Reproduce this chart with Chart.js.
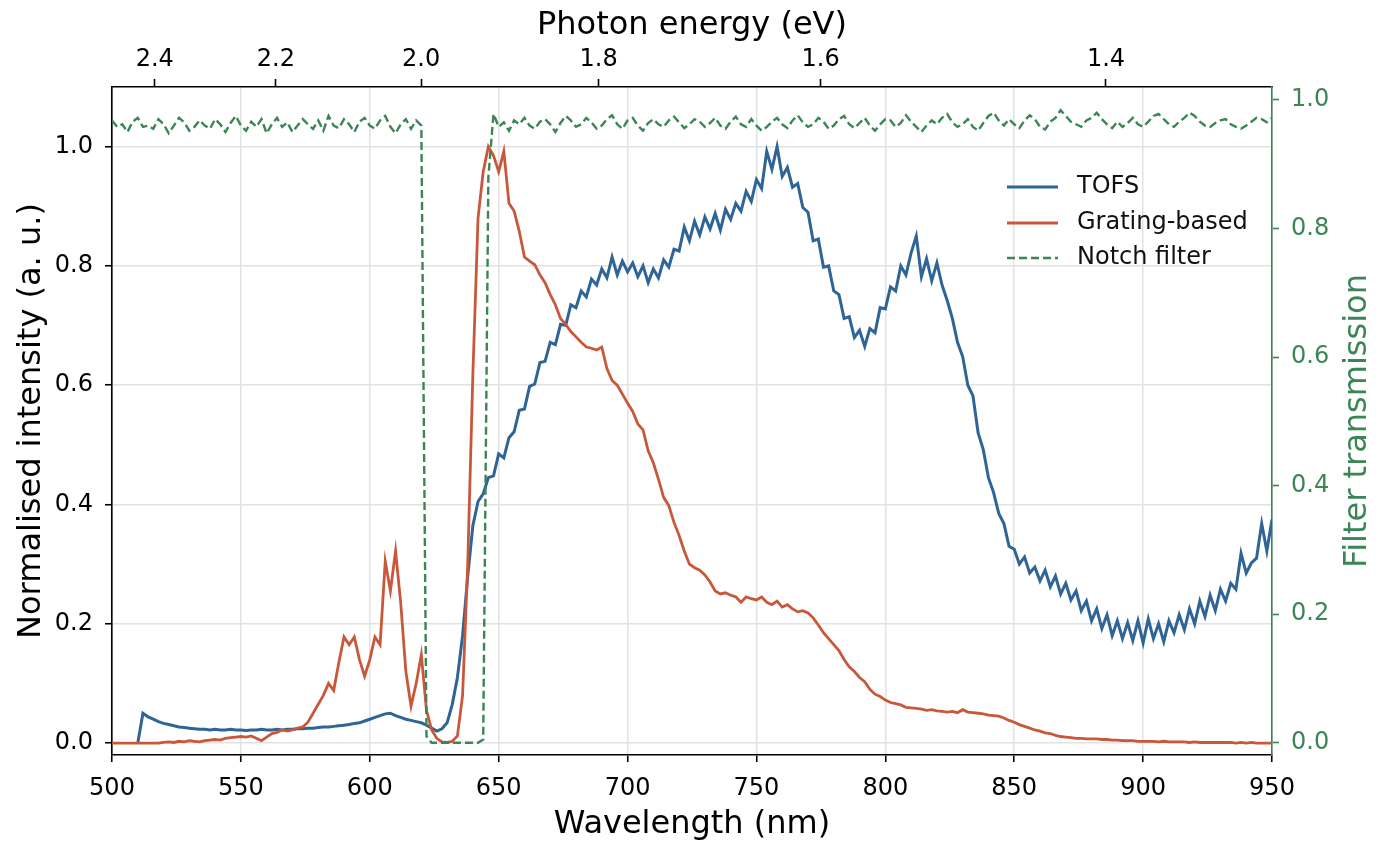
<!DOCTYPE html>
<html>
<head>
<meta charset="utf-8">
<script src="https://cdn.jsdelivr.net/npm/chart.js@4.4.1/dist/chart.umd.min.js"></script>
<style>
  html, body { margin: 0; padding: 0; background: #fff; }
  canvas { display: block; }
</style>
</head>
<body>
<canvas id="spectrum" width="1387" height="845"></canvas>
<script>
// wavelength grid: 500 nm .. 950 nm, one sample every 2 nm
const WL_START = 500;
const WL_STEP = 2;

// TOFS spectrum (normalised)
const tofs = [
  null, null, null, null, null, 0.000, 0.050, 0.044, 0.040, 0.036,
  0.033, 0.031, 0.029, 0.027, 0.026, 0.025, 0.024, 0.023, 0.023, 0.022,
  0.023, 0.022, 0.022, 0.023, 0.022, 0.022, 0.021, 0.022, 0.022, 0.023,
  0.022, 0.022, 0.023, 0.022, 0.023, 0.023, 0.024, 0.024, 0.025, 0.025,
  0.026, 0.027, 0.027, 0.028, 0.029, 0.030, 0.031, 0.033, 0.034, 0.037,
  0.040, 0.043, 0.046, 0.049, 0.050, 0.046, 0.043, 0.040, 0.038, 0.036,
  0.034, 0.030, 0.025, 0.020, 0.024, 0.034, 0.065, 0.110, 0.180, 0.280,
  0.365, 0.405, 0.418, 0.445, 0.448, 0.485, 0.478, 0.512, 0.522, 0.558,
  0.560, 0.598, 0.602, 0.638, 0.640, 0.672, 0.668, 0.702, 0.700, 0.735,
  0.730, 0.758, 0.748, 0.778, 0.768, 0.795, 0.780, 0.815, 0.785, 0.808,
  0.790, 0.805, 0.782, 0.800, 0.772, 0.795, 0.780, 0.810, 0.798, 0.828,
  0.825, 0.865, 0.842, 0.875, 0.852, 0.882, 0.862, 0.888, 0.860, 0.895,
  0.878, 0.905, 0.892, 0.925, 0.908, 0.945, 0.930, 0.992, 0.962, 1.000,
  0.950, 0.965, 0.932, 0.938, 0.898, 0.890, 0.842, 0.845, 0.798, 0.800,
  0.758, 0.752, 0.712, 0.715, 0.680, 0.692, 0.665, 0.695, 0.688, 0.730,
  0.728, 0.765, 0.758, 0.800, 0.785, 0.822, 0.850, 0.782, 0.812, 0.775,
  0.805, 0.768, 0.742, 0.712, 0.672, 0.648, 0.600, 0.582, 0.520, 0.492,
  0.445, 0.420, 0.385, 0.368, 0.330, 0.325, 0.300, 0.312, 0.285, 0.295,
  0.272, 0.290, 0.262, 0.280, 0.250, 0.268, 0.240, 0.255, 0.222, 0.238,
  0.205, 0.225, 0.192, 0.215, 0.180, 0.205, 0.175, 0.202, 0.172, 0.205,
  0.168, 0.208, 0.175, 0.200, 0.170, 0.205, 0.185, 0.215, 0.190, 0.225,
  0.200, 0.238, 0.212, 0.248, 0.222, 0.258, 0.238, 0.268, 0.258, 0.318,
  0.285, 0.302, 0.310, 0.368, 0.322, 0.375
];

// grating-based spectrometer (normalised)
const grating = [
  0.000, 0.000, 0.000, 0.000, 0.000, 0.000, 0.000, 0.000, 0.000, 0.000,
  0.001, 0.002, 0.001, 0.003, 0.002, 0.004, 0.003, 0.002, 0.004, 0.005,
  0.006, 0.005, 0.008, 0.009, 0.010, 0.011, 0.010, 0.012, 0.008, 0.004,
  0.010, 0.016, 0.018, 0.022, 0.020, 0.022, 0.025, 0.027, 0.035, 0.050,
  0.065, 0.080, 0.100, 0.088, 0.135, 0.178, 0.165, 0.178, 0.140, 0.112,
  0.140, 0.178, 0.165, 0.305, 0.255, 0.322, 0.235, 0.120, 0.062, 0.100,
  0.148, 0.055, 0.022, 0.008, 0.002, 0.001, 0.003, 0.012, 0.080, 0.300,
  0.620, 0.880, 0.958, 1.000, 0.985, 0.958, 0.992, 0.905, 0.892, 0.858,
  0.815, 0.808, 0.802, 0.785, 0.772, 0.752, 0.735, 0.712, 0.702, 0.690,
  0.681, 0.672, 0.664, 0.662, 0.659, 0.664, 0.628, 0.608, 0.600, 0.585,
  0.570, 0.556, 0.535, 0.525, 0.490, 0.470, 0.442, 0.412, 0.398, 0.370,
  0.348, 0.322, 0.300, 0.294, 0.290, 0.282, 0.270, 0.255, 0.250, 0.252,
  0.248, 0.245, 0.236, 0.245, 0.242, 0.240, 0.245, 0.236, 0.232, 0.238,
  0.228, 0.232, 0.225, 0.220, 0.222, 0.218, 0.210, 0.198, 0.185, 0.175,
  0.165, 0.155, 0.140, 0.128, 0.120, 0.110, 0.103, 0.090, 0.082, 0.078,
  0.072, 0.068, 0.066, 0.064, 0.060, 0.059, 0.058, 0.057, 0.055, 0.056,
  0.054, 0.053, 0.052, 0.053, 0.051, 0.056, 0.052, 0.051, 0.050, 0.049,
  0.047, 0.046, 0.045, 0.042, 0.038, 0.035, 0.031, 0.028, 0.025, 0.022,
  0.020, 0.017, 0.016, 0.013, 0.011, 0.010, 0.009, 0.008, 0.008, 0.007,
  0.007, 0.007, 0.006, 0.006, 0.005, 0.005, 0.004, 0.004, 0.004, 0.003,
  0.003, 0.003, 0.003, 0.002, 0.003, 0.002, 0.002, 0.002, 0.002, 0.001,
  0.002, 0.001, 0.001, 0.001, 0.001, 0.001, 0.001, 0.001, 0.000, 0.001,
  0.000, 0.001, 0.000, 0.000, 0.000, 0.000
];

// notch filter transmission (right axis)
const notch = [
  0.968, 0.958, 0.962, 0.950, 0.966, 0.972, 0.958, 0.960, 0.955, 0.970,
  0.962, 0.948, 0.960, 0.972, 0.965, 0.952, 0.958, 0.968, 0.960, 0.955,
  0.970, 0.962, 0.950, 0.964, 0.975, 0.960, 0.952, 0.966, 0.958, 0.970,
  0.948, 0.962, 0.972, 0.958, 0.965, 0.950, 0.960, 0.970, 0.962, 0.955,
  0.968, 0.952, 0.975, 0.960, 0.956, 0.970, 0.962, 0.950, 0.966, 0.972,
  0.960, 0.955, 0.968, 0.975, 0.958, 0.948, 0.962, 0.970, 0.955, 0.968,
  0.960, 0.010, 0.000, 0.000, 0.000, 0.000, 0.000, 0.000, 0.000, 0.000,
  0.000, 0.000, 0.005, 0.880, 0.978,
  0.958, 0.965, 0.952, 0.968, 0.962, 0.972, 0.960, 0.955, 0.966, 0.970,
  0.962, 0.950, 0.964, 0.975, 0.968, 0.958, 0.962, 0.972, 0.965, 0.955,
  0.960, 0.970, 0.976, 0.962, 0.955, 0.968, 0.972, 0.960, 0.952, 0.964,
  0.970, 0.962, 0.958, 0.968, 0.974, 0.965, 0.956, 0.962, 0.970, 0.966,
  0.958, 0.964, 0.972, 0.960, 0.955, 0.966, 0.974, 0.962, 0.958, 0.970,
  0.960, 0.952, 0.958, 0.966, 0.972, 0.962, 0.956, 0.968, 0.976, 0.965,
  0.958, 0.962, 0.972, 0.966, 0.955, 0.960, 0.970, 0.975, 0.962, 0.956,
  0.964, 0.972, 0.960, 0.952, 0.962, 0.970, 0.968, 0.958, 0.964, 0.976,
  0.966, 0.958, 0.950, 0.960, 0.968, 0.962, 0.972, 0.978, 0.965, 0.958,
  0.962, 0.970, 0.958, 0.952, 0.964, 0.975, 0.980, 0.968, 0.960, 0.970,
  0.962, 0.956, 0.968, 0.976, 0.970, 0.958, 0.954, 0.966, 0.972, 0.984,
  0.975, 0.966, 0.962, 0.958, 0.968, 0.972, 0.980, 0.970, 0.962, 0.956,
  0.966, 0.958, 0.964, 0.972, 0.962, 0.958, 0.966, 0.975, 0.978, 0.970,
  0.962, 0.958, 0.966, 0.972, 0.980, 0.975, 0.966, 0.960, 0.958, 0.964,
  0.968, 0.970, 0.962, 0.958, 0.955, 0.960, 0.966, 0.972, 0.970, 0.965,
  0.972
];

const wavelengthTicks = [500, 550, 600, 650, 700, 750, 800, 850, 900, 950];
const intensityTicks = [0.0, 0.2, 0.4, 0.6, 0.8, 1.0];
const transmissionTicks = [0.0, 0.2, 0.4, 0.6, 0.8, 1.0];
const energyTicks = [2.4, 2.2, 2.0, 1.8, 1.6, 1.4];
const HC = 1239.84; // eV*nm

const BLUE = '#2f6496';
const RED = '#c9583b';
const GREEN = '#3b8556';
const GRID = '#e2e2e2';
const FONT = '"DejaVu Sans", sans-serif';

Chart.defaults.font.family = FONT;
Chart.defaults.color = '#000';

function toPoints(values) {
  return values.map((v, i) => ({ x: WL_START + i * WL_STEP, y: v }));
}

function setTicks(list) {
  return scale => { scale.ticks = list.map(v => ({ value: v })); };
}

const axisTitles = {
  id: 'axisTitles',
  afterDraw(chart) {
    const { ctx, chartArea } = chart;
    const midX = (chartArea.left + chartArea.right) / 2;
    const midY = (chartArea.top + chartArea.bottom) / 2;
    ctx.save();
    ctx.font = `32px ${FONT}`;
    ctx.textAlign = 'center';
    ctx.textBaseline = 'alphabetic';
    ctx.fillStyle = '#000';
    ctx.fillText('Wavelength (nm)', midX, 833);
    ctx.fillText('Photon energy (eV)', midX, 34);

    ctx.save();
    ctx.translate(40, midY);
    ctx.rotate(-Math.PI / 2);
    ctx.fillText('Normalised intensity (a. u.)', 0, 0);
    ctx.restore();

    ctx.save();
    ctx.translate(1366, midY);
    ctx.rotate(-Math.PI / 2);
    ctx.fillStyle = GREEN;
    ctx.fillText('Filter transmission', 0, 0);
    ctx.restore();
    ctx.restore();
  }
};

const legendBox = {
  id: 'legendBox',
  afterDraw(chart) {
    const ctx = chart.ctx;
    const rows = [187, 223, 258];
    ctx.save();
    ctx.font = `24px ${FONT}`;
    ctx.textAlign = 'left';
    ctx.textBaseline = 'middle';
    chart.data.datasets.forEach((ds, i) => {
      const y = rows[i];
      ctx.strokeStyle = ds.borderColor;
      ctx.lineWidth = ds.borderWidth;
      ctx.setLineDash(ds.borderDash || []);
      ctx.beginPath();
      ctx.moveTo(1007, y);
      ctx.lineTo(1058, y);
      ctx.stroke();
      ctx.fillStyle = '#111';
      ctx.fillText(ds.label, 1077, y);
    });
    ctx.restore();
  }
};

new Chart(document.getElementById('spectrum'), {
  type: 'line',
  data: {
    datasets: [
      {
        label: 'TOFS',
        data: toPoints(tofs),
        borderColor: BLUE,
        borderWidth: 3,
        pointRadius: 0,
        tension: 0,
        yAxisID: 'y',
        xAxisID: 'x',
        order: 3
      },
      {
        label: 'Grating-based',
        data: toPoints(grating),
        borderColor: RED,
        borderWidth: 2.8,
        pointRadius: 0,
        tension: 0,
        yAxisID: 'y',
        xAxisID: 'x',
        order: 2
      },
      {
        label: 'Notch filter',
        data: toPoints(notch),
        borderColor: GREEN,
        borderWidth: 2.4,
        borderDash: [8, 4],
        pointRadius: 0,
        tension: 0,
        yAxisID: 'y2',
        xAxisID: 'x',
        order: 1
      }
    ]
  },
  options: {
    responsive: false,
    animation: false,
    devicePixelRatio: 1,
    layout: { padding: 0 },
    plugins: {
      legend: { display: false },
      tooltip: { enabled: false }
    },
    scales: {
      x: {
        type: 'linear',
        position: 'bottom',
        min: 500,
        max: 950,
        afterBuildTicks: setTicks(wavelengthTicks),
        afterFit: s => { s.height = 90; },
        ticks: { font: { size: 24 }, color: '#000', padding: 12, maxRotation: 0, autoSkip: false,
                 callback: v => String(v) },
        grid: { color: GRID, lineWidth: 1.5, tickColor: '#000', tickLength: 7, tickWidth: 1.6 },
        border: { color: '#000', width: 1.6 }
      },
      xTop: {
        type: 'linear',
        position: 'top',
        min: 500,
        max: 950,
        afterBuildTicks: scale => { scale.ticks = energyTicks.map(e => ({ value: HC / e })); },
        afterFit: s => { s.height = 87; },
        ticks: { font: { size: 24 }, color: '#000', padding: 5, maxRotation: 0, autoSkip: false,
                 callback: v => (HC / v).toFixed(1) },
        grid: { drawOnChartArea: false, tickColor: '#000', tickLength: 8, tickWidth: 1.6 },
        border: { color: '#000', width: 1.6 }
      },
      y: {
        type: 'linear',
        position: 'left',
        min: -0.02,
        max: 1.1,
        afterBuildTicks: setTicks(intensityTicks),
        afterFit: s => { s.width = 112; },
        ticks: { font: { size: 24 }, color: '#000', padding: 12, callback: v => v.toFixed(1) },
        grid: { color: GRID, lineWidth: 1.5, tickColor: '#000', tickLength: 7, tickWidth: 1.6 },
        border: { color: '#000', width: 1.6 }
      },
      y2: {
        type: 'linear',
        position: 'right',
        min: -0.019,
        max: 1.02,
        afterBuildTicks: setTicks(transmissionTicks),
        afterFit: s => { s.width = 115; },
        ticks: { font: { size: 24 }, color: GREEN, padding: 12, callback: v => v.toFixed(1) },
        grid: { drawOnChartArea: false, tickColor: GREEN, tickLength: 7, tickWidth: 1.6 },
        border: { color: GREEN, width: 1.6 }
      }
    }
  },
  plugins: [axisTitles, legendBox]
});
</script>
</body>
</html>
